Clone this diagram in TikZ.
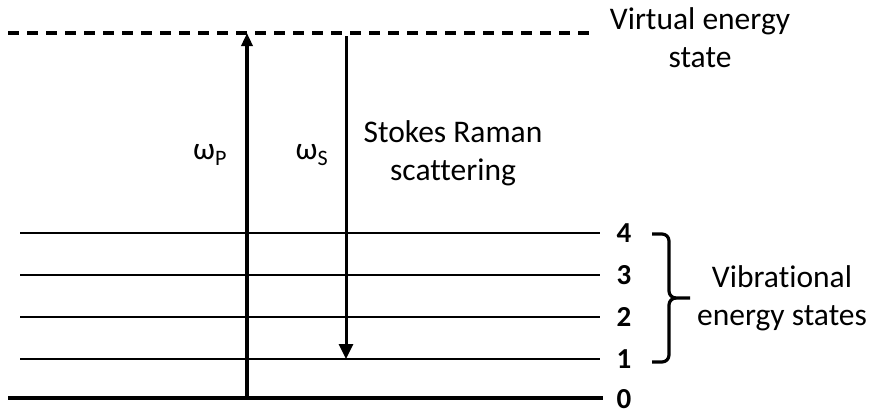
\documentclass[tikz,border=0pt]{standalone}
\usepackage{fontspec}
\setmainfont{Carlito}[Ligatures=NoCommon]
\usetikzlibrary{arrows.meta}
\begin{document}
\begin{tikzpicture}[x=1pt,y=-1pt,
  lbl/.style={font=\fontsize{31.5}{38}\selectfont, align=center, inner sep=0pt},
  num/.style={font=\fontsize{29}{34}\selectfont\bfseries, inner sep=0pt},
  level/.style={line width=1.8pt},
  ground/.style={line width=4.5pt},
  virtual/.style={line width=4.5pt, dash pattern=on 11pt off 8pt},
  pump/.style={line width=3.6pt, -{Triangle[length=13pt,width=11pt]}},
  stokes/.style={line width=3pt, -{Triangle[length=15pt,width=14pt]}},
  bracestyle/.style={line width=3.2pt, line join=round}]
\useasboundingbox (0,0) rectangle (875,415);

% energy levels
\coordinate (v0) at (8,33);   \coordinate (v1) at (595,33);
\coordinate (g0) at (8,398);  \coordinate (g1) at (603,398);
\foreach \n/\y in {1/359,2/317,3/275,4/233}{
  \coordinate (l\n a) at (20,\y);
  \coordinate (l\n b) at (600,\y);
  \draw[level] (l\n a) -- (l\n b);
  \node[num] (n\n) at (624,\y) {\n};
}
\node[num] (n0) at (624,399) {0};
\draw[ground] (g0) -- (g1);
\draw[virtual] (v0) -- (v1);

% transitions
\coordinate (pb) at (247,398);  \coordinate (pt) at (247,33);
\coordinate (st) at (346,36);   \coordinate (sb) at (346,359);
\draw[pump] (pb) -- (pt);
\draw[stokes] (st) -- (sb);

% labels
\node[lbl] (wp) at (210,155) {ω\textsubscript{P}};
\node[lbl] (ws) at (312,155) {ω\textsubscript{S}};
\node[lbl] (sr) at (453,153) {Stokes Raman\\scattering};
\node[lbl] (ve) at (700,38) {Virtual energy\\state};
\node[lbl] (vs) at (782,298) {Vibrational\\energy states};

% brace over levels 1 to 4
\draw[bracestyle] (652,234) -- (662,234) to[out=0,in=90] (669,241) -- (669,291)
  to[out=-90,in=180] (676,298) -- (690,298);
\draw[bracestyle] (652,362) -- (662,362) to[out=0,in=-90] (669,355) -- (669,305)
  to[out=90,in=180] (676,298);
\end{tikzpicture}
\end{document}
